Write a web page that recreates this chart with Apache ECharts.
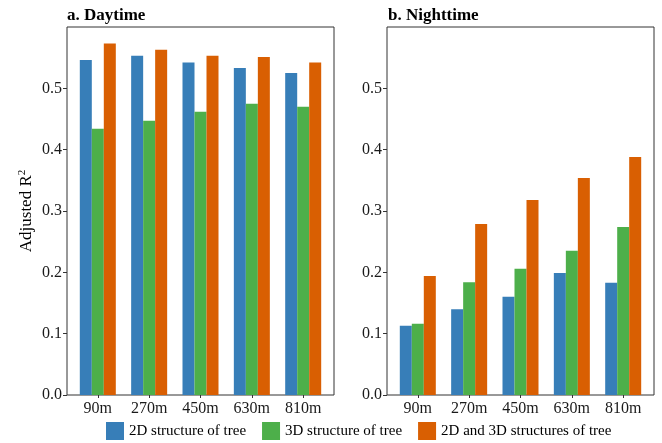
<!DOCTYPE html>
<html>
<head>
<meta charset="utf-8">
<script src="https://cdn.jsdelivr.net/npm/echarts@6/dist/echarts.min.js"></script>
<style>html,body{margin:0;padding:0;background:#fff}#c{width:662px;height:443px}</style>
</head>
<body>
<div id="c"></div>
<script>
const categories = ['90m', '270m', '450m', '630m', '810m'];
const seriesNames = ['2D structure of tree', '3D structure of tree', '2D and 3D structures of tree'];
const panelTitles = ['a. Daytime', 'b. Nighttime'];
const yTicks = [0, 0.1, 0.2, 0.3, 0.4, 0.5];

const day2D = [0.546, 0.553, 0.542, 0.533, 0.525];
const day3D = [0.434, 0.447, 0.462, 0.475, 0.470];
const day2D3D = [0.573, 0.563, 0.553, 0.551, 0.542];

const night2D = [0.113, 0.140, 0.160, 0.199, 0.183];
const night3D = [0.116, 0.184, 0.206, 0.235, 0.274];
const night2D3D = [0.194, 0.279, 0.318, 0.354, 0.388];

const colors = ['#377EB8', '#4DAF4A', '#D95F02'];
const FONT = 'Liberation Serif';
const catIdx = categories.map((c, i) => i);

const grids = [
  {left: 67, right: 328, top: 27, bottom: 48},
  {left: 387, right: 8, top: 27, bottom: 48}
];

function xAxisFor(g) {
  return {
    type: 'value', gridIndex: g, min: -0.6, max: 4.6,
    splitLine: {show: false},
    axisLine: {show: false, onZero: false},
    axisTick: {show: true, customValues: catIdx, length: 3, lineStyle: {color: '#333'}},
    axisLabel: {customValues: catIdx, formatter: v => categories[Math.round(v)], fontFamily: FONT, fontSize: 16, color: '#1a1a1a', margin: 6}
  };
}
function yAxisFor(g) {
  const ax = {
    type: 'value', gridIndex: g, min: 0, max: 0.6,
    splitLine: {show: false},
    axisLine: {show: false, onZero: false},
    axisTick: {show: true, customValues: yTicks, length: 4, lineStyle: {color: '#333'}},
    axisLabel: {customValues: yTicks, formatter: v => v.toFixed(1), fontFamily: FONT, fontSize: 16, color: '#1a1a1a', margin: 5}
  };
  if (g === 0) {
    ax.name = 'Adjusted R{sup|2}';
    ax.nameLocation = 'middle';
    ax.nameGap = 31;
    ax.nameTextStyle = {fontFamily: FONT, fontSize: 17, color: '#000',
      rich: {sup: {fontFamily: FONT, fontSize: 11, color: '#000', verticalAlign: 'top', padding: [0, 0, 8, 0]}}};
  }
  return ax;
}

const dayData = [day2D, day3D, day2D3D];
const nightData = [night2D, night3D, night2D3D];
const series = [];
[dayData, nightData].forEach((panel, g) => {
  panel.forEach((vals, s) => {
    series.push({
      type: 'bar', name: seriesNames[s], xAxisIndex: g, yAxisIndex: g,
      barWidth: 12, barGap: '0%',
      itemStyle: {color: colors[s]},
      data: vals.map((v, i) => [i, v])
    });
  });
});

const chart = echarts.init(document.getElementById('c'), null, {renderer: 'canvas'});
chart.setOption({
  animation: false,
  backgroundColor: '#fff',
  title: panelTitles.map((t, i) => ({
    text: t, left: i === 0 ? 67 : 388, top: 7, padding: 0,
    textStyle: {fontFamily: FONT, fontSize: 17, fontWeight: 'bold', color: '#000'}
  })),
  grid: grids.map(g => Object.assign({show: true, borderColor: '#333', borderWidth: 1, backgroundColor: 'transparent'}, g)),
  xAxis: [xAxisFor(0), xAxisFor(1)],
  yAxis: [yAxisFor(0), yAxisFor(1)],
  legend: {
    data: seriesNames, left: 106, top: 422, padding: 0,
    itemWidth: 18, itemHeight: 18, itemGap: 16, icon: 'rect',
    textStyle: {fontFamily: FONT, fontSize: 15, color: '#000'}
  },
  series: series
});
</script>
</body>
</html>
